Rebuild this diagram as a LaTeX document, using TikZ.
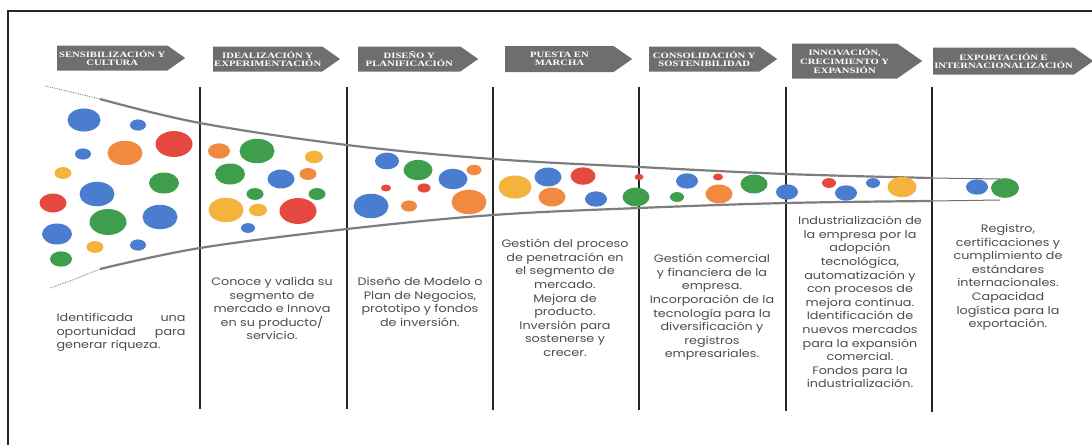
\documentclass[tikz,border=0pt]{standalone}
\usepackage{fontspec}
\setmainfont[FakeStretch=1.18]{Poppins}
\newfontfamily\rotulo[FakeStretch=1.3]{Liberation Serif}
\usepackage{tikz}
\usetikzlibrary{shapes.geometric,shapes.symbols}
\definecolor{azul}{HTML}{4A7CD0}
\definecolor{rojo}{HTML}{E5483F}
\definecolor{naranja}{HTML}{EF8A40}
\definecolor{amarillo}{HTML}{F4B33C}
\definecolor{verde}{HTML}{3E9E4C}
\definecolor{gris}{HTML}{6E6E6E}

\begin{document}
\begin{tikzpicture}[x=1pt,y=-1pt,
	fase/.style={signal,signal to=east,signal pointer angle=70,fill=gris,text=white,anchor=west,inner sep=1pt,align=center,font=\rotulo\bfseries\fontsize{8.2}{8.6}\selectfont},
	texto/.style={anchor=north,align=center,inner sep=0pt,text=black!70,font=\fontsize{10.8}{13.6}\selectfont},
	bola/.style={ellipse,inner sep=0pt,minimum width=#1,minimum height=0.7*#1},
	az/.style={bola=#1,fill=azul},
	ro/.style={bola=#1,fill=rojo},
	na/.style={bola=#1,fill=naranja},
	am/.style={bola=#1,fill=amarillo},
	ve/.style={bola=#1,fill=verde},
	embudo/.style={draw=gris!90,line width=2.2pt},
	linea/.style={line width=2.2pt,black!85}]
	\useasboundingbox (0,0) rectangle (1092,445);
	\draw[line width=1.4pt,black!85] (8,445) -- (8,11) -- (1092,11);
	% fases
	\node[fase,minimum width=128,minimum height=25] (f1) at (57,58) {SENSIBILIZACIÓN Y\\CULTURA};
	\node[fase,minimum width=125,minimum height=25] (f2) at (213,59) {IDEALIZACIÓN Y\\EXPERIMENTACIÓN};
	\node[fase,minimum width=120,minimum height=25] (f3) at (358,59) {DISEÑO Y\\PLANIFICACIÓN};
	\node[fase,minimum width=127,minimum height=26] (f4) at (505,59) {PUESTA EN\\MARCHA};
	\node[fase,minimum width=128,minimum height=25] (f5) at (649,59) {CONSOLIDACIÓN Y\\SOSTENIBILIDAD};
	\node[fase,minimum width=130,minimum height=35] (f6) at (792,61) {INNOVACIÓN,\\CRECIMIENTO Y\\EXPANSIÓN};
	\node[fase,minimum width=160,minimum height=27] (f7) at (933,61) {EXPORTACIÓN E\\INTERNACIONALIZACIÓN};
	% divisiones
	\draw[linea] (200,87) -- (200,409);
	\draw[linea] (347,87) -- (347,409);
	\draw[linea] (493,87) -- (493,410);
	\draw[linea] (639,87) -- (639,410);
	\draw[linea] (786,87) -- (786,411);
	\draw[linea] (932,87) -- (932,412);
	% embudo
	\draw[gris,densely dotted,line width=0.8pt] plot[smooth] coordinates {(45,86) (63,90) (100,99)};
	\draw[embudo] plot[smooth,tension=0.6] coordinates {(100,99) (200,123) (347,145) (493,159) (639,167) (786,174) (932,178)};
	\draw[gris,line width=1pt] (932,178) -- (1000,179);
	\draw[gris,densely dotted,line width=0.8pt] plot[smooth] coordinates {(50,288) (75,279) (100,269)};
	\draw[embudo] plot[smooth,tension=0.6] coordinates {(100,269) (200,248) (347,229) (493,215) (639,208) (786,203) (932,201)};
	\draw[gris,line width=1pt] (932,201) -- (1000,200);
	% burbujas
	\node[az=33] (b1) at (84,120) {};
	\node[az=16] (b2) at (138,125) {};
	\node[az=16] (b3) at (83,154) {};
	\node[na=35] (o1) at (125,153) {};
	\node[ro=37] (r1) at (174,144) {};
	\node[am=17] (y1) at (63,173) {};
	\node[ve=30] (g1) at (164,183) {};
	\node[az=35] (b4) at (97,194) {};
	\node[ro=27] (r2) at (53,203) {};
	\node[ve=37] (g2) at (108,222) {};
	\node[az=35] (b5) at (160,217) {};
	\node[az=30] (b6) at (57,234) {};
	\node[am=17] (o2) at (95,247) {};
	\node[az=16] (b7) at (138,245) {};
	\node[ve=22] (g3) at (61,259) {};
	\node[na=22] (o3) at (219,151) {};
	\node[ve=35] (g4) at (257,151) {};
	\node[am=18] (y2) at (314,157) {};
	\node[ve=30] (g5) at (230,174) {};
	\node[az=27] (b8) at (281,179) {};
	\node[na=17] (o4) at (308,174) {};
	\node[ve=17] (g6) at (255,194) {};
	\node[ve=17] (g7) at (317,194) {};
	\node[am=35] (y3) at (226,210) {};
	\node[am=18] (y4) at (258,210) {};
	\node[ro=37] (r3) at (298,211) {};
	\node[az=14] (b9) at (248,228) {};
	\node[az=24] (b10) at (387,161) {};
	\node[ve=29] (g8) at (418,170) {};
	\node[az=29] (b11) at (453,179) {};
	\node[na=15] (o5) at (474,170) {};
	\node[ro=10] (r4) at (386,188) {};
	\node[ro=13] (r5) at (424,188) {};
	\node[az=35] (b12) at (371,206) {};
	\node[na=16] (o6) at (409,206) {};
	\node[na=35] (o7) at (469,202) {};
	\node[am=33] (y5) at (515,187) {};
	\node[az=27] (b13) at (548,177) {};
	\node[na=27] (o8) at (552,197) {};
	\node[ro=25] (r6) at (583,176) {};
	\node[az=22] (b14) at (596,199) {};
	\node[ro=9] (r7) at (639,177) {};
	\node[ve=27] (g9) at (636,197) {};
	\node[az=22] (b15) at (687,181) {};
	\node[ve=14] (g10) at (677,197) {};
	\node[ro=10] (r8) at (718,177) {};
	\node[na=27] (o9) at (719,194) {};
	\node[ve=27] (g11) at (754,184) {};
	\node[az=22] (b16) at (787,192) {};
	\node[ro=14] (r9) at (829,183) {};
	\node[az=22] (b17) at (846,193) {};
	\node[az=14] (b18) at (873,183) {};
	\node[am=29] (y6) at (902,187) {};
	\node[az=22] (b19) at (977,187) {};
	\node[ve=28] (g12) at (1005,188) {};
	% textos
	\node[texto,text width=129,align=left] (t1) at (121,313) {Identificada \hfill una\\oportunidad \hfill para\\generar riqueza.};
	\node[texto] (t2) at (272,277) {Conoce y valida su\\segmento de\\mercado e Innova\\en su producto/\\servicio.};
	\node[texto] (t3) at (420,277) {Diseño de Modelo o\\Plan de Negocios,\\prototipo y fondos\\de inversión.};
	\node[texto] (t4) at (565,239) {Gestión del proceso\\de penetración en\\el segmento de\\mercado.\\Mejora de\\producto.\\Inversión para\\sostenerse y\\crecer.};
	\node[texto] (t5) at (712,254) {Gestión comercial\\y financiera de la\\empresa.\\Incorporación de la\\tecnología para la\\diversificación y\\registros\\empresariales.};
	\node[texto] (t6) at (860,216) {Industrialización de\\la empresa por la\\adopción\\tecnológica,\\automatización y\\con procesos de\\mejora continua.\\Identificación de\\nuevos mercados\\para la expansión\\comercial.\\Fondos para la\\industrialización.};
	\node[texto] (t7) at (1008,224) {Registro,\\certificaciones y\\cumplimiento de\\estándares\\internacionales.\\Capacidad\\logística para la\\exportación.};
\end{tikzpicture}
\end{document}
